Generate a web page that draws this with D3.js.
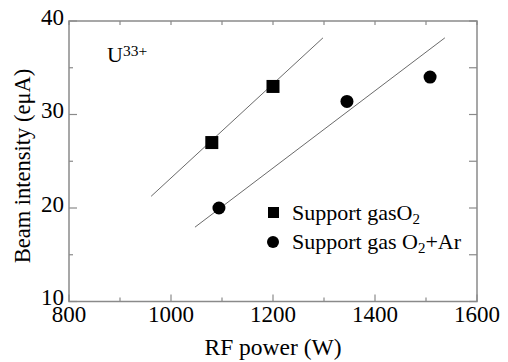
<!DOCTYPE html>
<html>
<head>
<meta charset="utf-8">
<script src="https://cdn.jsdelivr.net/npm/d3@7"></script>
<style>
  body { margin: 0; background: #fff; }
  text { font-family: "Liberation Serif", "Times New Roman", serif; fill: #000; }
</style>
</head>
<body>
<div id="chartDiv"></div>
<script>
// data
var o2Power = [1080, 1200],
    o2Beam = [27, 33];
var o2ArPower = [1094, 1345, 1508],
    o2ArBeam = [20, 31.4, 34];
// fitted lines (end points)
var o2LineX = [961, 1298],
    o2LineY = [21.25, 38.2];
var o2ArLineX = [1047, 1537],
    o2ArLineY = [17.95, 38.2];
var xTicks = [800, 1000, 1200, 1400, 1600],
    yTicks = [10, 20, 30, 40];
var legendLabels = ["Support gasO", "Support gas O"];

var svg = d3.select("#chartDiv").append("svg")
    .attr("width", 508)
    .attr("height", 362);

var x_scale = d3.scaleLinear().domain([800, 1600]).range([69, 477]);
var y_scale = d3.scaleLinear().domain([10, 40]).range([301.5, 21]);

var axisColor = "#8a8a8a";

// frame
svg.append("rect")
    .attr("x", x_scale(800)).attr("y", y_scale(40))
    .attr("width", x_scale(1600) - x_scale(800))
    .attr("height", y_scale(10) - y_scale(40))
    .attr("fill", "none").attr("stroke", axisColor).attr("stroke-width", 1.5);

// inward ticks, minor at half steps
var xMinor = d3.range(800, 1601, 100), yMinor = d3.range(10, 41, 5);
var ticks = svg.append("g").attr("stroke", axisColor).attr("stroke-width", 1.2);
xMinor.forEach(function(v) {
  var len = (v % 200 == 0) ? 7 : 4;
  ticks.append("line").attr("x1", x_scale(v)).attr("x2", x_scale(v))
      .attr("y1", y_scale(10)).attr("y2", y_scale(10) - len);
  ticks.append("line").attr("x1", x_scale(v)).attr("x2", x_scale(v))
      .attr("y1", y_scale(40)).attr("y2", y_scale(40) + 4);
});
yMinor.forEach(function(v) {
  var len = (v % 10 == 0) ? 8 : 4;
  ticks.append("line").attr("x1", x_scale(800)).attr("x2", x_scale(800) + len)
      .attr("y1", y_scale(v)).attr("y2", y_scale(v));
  ticks.append("line").attr("x1", x_scale(1600)).attr("x2", x_scale(1600) - 8)
      .attr("y1", y_scale(v)).attr("y2", y_scale(v));
});

// tick labels
svg.append("g").selectAll("text").data(xTicks).enter().append("text")
    .attr("x", function(d) { return x_scale(d); })
    .attr("y", 322)
    .attr("text-anchor", "middle")
    .style("font-size", "23px")
    .text(function(d) { return d; });
svg.append("g").selectAll("text").data(yTicks).enter().append("text")
    .attr("x", 64)
    .attr("y", function(d) { return y_scale(d) + 3.5; })
    .attr("text-anchor", "end")
    .style("font-size", "23px")
    .text(function(d) { return d; });

// axis titles
svg.append("text")
    .attr("x", 273).attr("y", 355)
    .attr("text-anchor", "middle")
    .style("font-size", "23.5px")
    .text("RF power (W)");
svg.append("text")
    .attr("transform", "translate(30,166) rotate(-90)")
    .attr("text-anchor", "middle")
    .style("font-size", "22.5px")
    .text("Beam intensity (e\u03bcA)");

// ion label
var ion = svg.append("text").attr("x", 107).attr("y", 62).style("font-size", "22px");
ion.append("tspan").text("U");
ion.append("tspan").attr("dy", -6).style("font-size", "15.5px").text("33+");

// fit lines
var line = d3.line().x(function(d) { return x_scale(d[0]); }).y(function(d) { return y_scale(d[1]); });
svg.append("path").datum(d3.zip(o2LineX, o2LineY)).attr("d", line)
    .attr("fill", "none").attr("stroke", "#444").attr("stroke-width", 0.8);
svg.append("path").datum(d3.zip(o2ArLineX, o2ArLineY)).attr("d", line)
    .attr("fill", "none").attr("stroke", "#444").attr("stroke-width", 0.8);

// markers
svg.append("g").selectAll("rect").data(d3.zip(o2Power, o2Beam)).enter().append("rect")
    .attr("x", function(d) { return x_scale(d[0]) - 6.5; })
    .attr("y", function(d) { return y_scale(d[1]) - 6.5; })
    .attr("width", 13).attr("height", 13)
    .attr("fill", "#000");
svg.append("g").selectAll("circle").data(d3.zip(o2ArPower, o2ArBeam)).enter().append("circle")
    .attr("cx", function(d) { return x_scale(d[0]); })
    .attr("cy", function(d) { return y_scale(d[1]); })
    .attr("r", 6.5)
    .attr("fill", "#000");

// legend
var lg = svg.append("g");
lg.append("rect").attr("x", 268).attr("y", 207).attr("width", 11).attr("height", 11).attr("fill", "#000");
lg.append("circle").attr("cx", 273).attr("cy", 242).attr("r", 6).attr("fill", "#000");
var t1 = lg.append("text").attr("x", 292).attr("y", 220).style("font-size", "22px");
t1.append("tspan").text(legendLabels[0]);
t1.append("tspan").attr("dy", 4).style("font-size", "15px").text("2");
var t2 = lg.append("text").attr("x", 292).attr("y", 249).style("font-size", "22px");
t2.append("tspan").text(legendLabels[1]);
t2.append("tspan").attr("dy", 4).style("font-size", "15px").text("2");
t2.append("tspan").attr("dy", -4).text("+Ar");
</script>
</body>
</html>
